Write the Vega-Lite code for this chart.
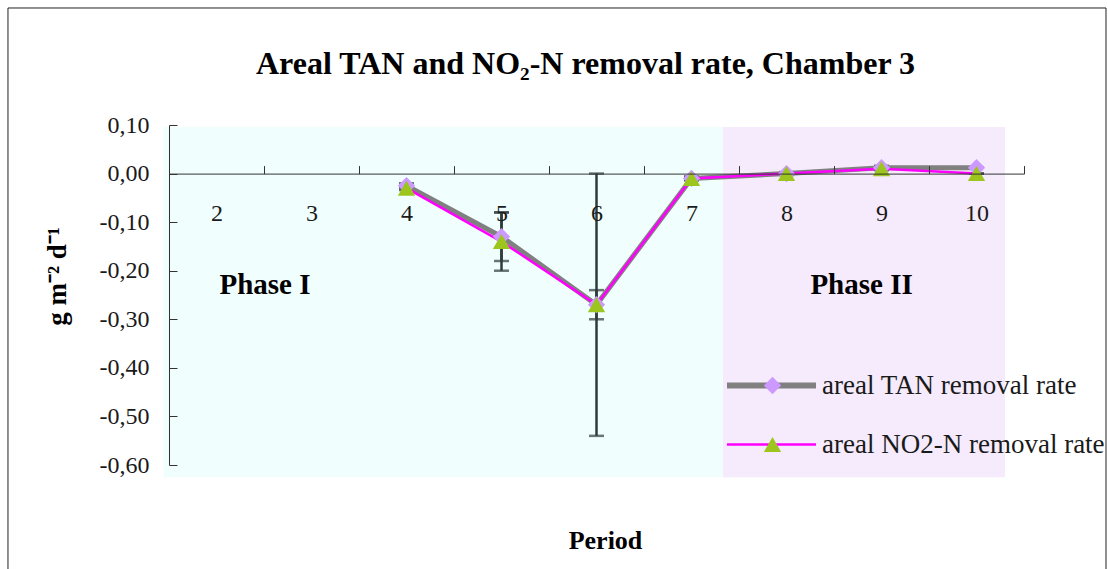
{
  "$schema": "https://vega.github.io/schema/vega-lite/v6.json",
  "width": 855,
  "height": 340,
  "autosize": {"type": "none"},
  "padding": {"left": 169, "top": 125, "right": 84, "bottom": 104},
  "background": "white",
  "title": {
    "text": "Areal TAN and NO₂-N removal rate, Chamber 3",
    "font": "Liberation Serif",
    "fontSize": 32,
    "fontWeight": "bold",
    "color": "#000000",
    "anchor": "middle",
    "dx": -11,
    "offset": -73.5
  },
  "datasets": {
    "rates": [
      {"period": 4, "series": "areal TAN removal rate", "value": -0.025, "lo": -0.03, "hi": -0.02},
      {"period": 5, "series": "areal TAN removal rate", "value": -0.13, "lo": -0.18, "hi": -0.08},
      {"period": 6, "series": "areal TAN removal rate", "value": -0.27, "lo": -0.54, "hi": 0.0},
      {"period": 7, "series": "areal TAN removal rate", "value": -0.01, "lo": -0.014, "hi": -0.006},
      {"period": 8, "series": "areal TAN removal rate", "value": 0.0, "lo": -0.003, "hi": 0.003},
      {"period": 9, "series": "areal TAN removal rate", "value": 0.012, "lo": 0.008, "hi": 0.016},
      {"period": 10, "series": "areal TAN removal rate", "value": 0.012, "lo": 0.012, "hi": 0.012},
      {"period": 4, "series": "areal NO2-N removal rate", "value": -0.03, "lo": -0.034, "hi": -0.026},
      {"period": 5, "series": "areal NO2-N removal rate", "value": -0.14, "lo": -0.2, "hi": -0.08},
      {"period": 6, "series": "areal NO2-N removal rate", "value": -0.27, "lo": -0.3, "hi": -0.24},
      {"period": 7, "series": "areal NO2-N removal rate", "value": -0.01, "lo": -0.013, "hi": -0.007},
      {"period": 8, "series": "areal NO2-N removal rate", "value": 0.0, "lo": 0.0, "hi": 0.0},
      {"period": 9, "series": "areal NO2-N removal rate", "value": 0.01, "lo": 0.007, "hi": 0.013},
      {"period": 10, "series": "areal NO2-N removal rate", "value": 0.0, "lo": 0.0, "hi": 0.0}
    ],
    "phases": [
      {"phase": "Phase I", "start": 1.44, "end": 7.33, "labelX": 2.51},
      {"phase": "Phase II", "start": 7.33, "end": 10.3, "labelX": 8.79}
    ]
  },
  "resolve": {"axis": {"x": "independent", "y": "independent"}},
  "layer": [
    {
      "data": {"name": "phases"},
      "transform": [{"filter": "datum.phase == 'Phase I'"}],
      "mark": {"type": "rect", "fill": "#F0FFFE"},
      "encoding": {
        "x": {"field": "start", "type": "quantitative", "scale": {"domain": [1.5, 10.5], "nice": false, "zero": false},
          "axis": {"orient": "bottom", "title": "Period", "labels": false, "ticks": false, "domain": false, "grid": false, "titleX": 436,
            "titleFont": "Liberation Serif", "titleFontSize": 26, "titleFontWeight": "bold", "titleColor": "#000000", "titlePadding": 62}},
        "x2": {"field": "end"},
        "y": {"datum": 0.096, "type": "quantitative", "axis": null},
        "y2": {"datum": -0.625}
      }
    },
    {
      "data": {"name": "phases"},
      "transform": [{"filter": "datum.phase == 'Phase II'"}],
      "mark": {"type": "rect", "fill": "#F5EBFC"},
      "encoding": {
        "x": {"field": "start", "type": "quantitative",
          "axis": {"orient": "bottom", "offset": -291.4, "values": [1.5, 2.5, 3.5, 4.5, 5.5, 6.5, 7.5, 8.5, 9.5, 10.5], "zindex": 1,
            "labels": false, "title": null, "grid": false, "tickSize": -8, "domainColor": "#333333", "tickColor": "#333333"}},
        "x2": {"field": "end"},
        "y": {"datum": 0.096, "type": "quantitative", "axis": null},
        "y2": {"datum": -0.625}
      }
    },
    {
      "data": {"values": [{}]},
      "mark": {"type": "rect", "filled": false, "stroke": "#222222", "strokeWidth": 1},
      "encoding": {
        "x": {"datum": -0.195, "type": "quantitative", "axis": null},
        "x2": {"datum": 11.363},
        "y": {"datum": 0.3409, "type": "quantitative", "axis": null},
        "y2": {"datum": -0.83}
      }
    },
    {
      "data": {"name": "phases"},
      "mark": {"type": "text", "font": "Liberation Serif", "fontSize": 29, "fontWeight": "bold", "color": "#000000"},
      "encoding": {
        "x": {"field": "labelX", "type": "quantitative", "axis": null},
        "y": {"datum": -0.23, "type": "quantitative", "axis": null},
        "text": {"field": "phase"}
      }
    },
    {
      "data": {"name": "rates"},
      "mark": {"type": "errorbar", "color": "#2F3B3B", "thickness": 2.5, "ticks": {"size": 15, "thickness": 2.5, "color": "#2F3B3B"}},
      "encoding": {
        "x": {"field": "period", "type": "quantitative", "axis": null},
        "y": {"field": "lo", "type": "quantitative", "axis": null},
        "y2": {"field": "hi"}
      }
    },
    {
      "data": {"name": "rates"},
      "mark": {"type": "line"},
      "encoding": {
        "x": {"field": "period", "type": "quantitative",
          "axis": {"orient": "bottom", "offset": -291.4, "values": [2, 3, 4, 5, 6, 7, 8, 9, 10], "ticks": false, "domain": false, "zindex": 1,
            "title": null, "grid": false, "labelFont": "Liberation Serif", "labelFontSize": 24, "labelColor": "#1a1a1a", "labelPadding": 28}},
        "y": {"field": "value", "type": "quantitative",
          "scale": {"domain": [-0.6, 0.1], "nice": false, "zero": false},
          "axis": {"orient": "left", "title": "g m⁻² d⁻¹", "values": [0.1, 0, -0.1, -0.2, -0.3, -0.4, -0.5, -0.6], "format": ".2f",
            "grid": false, "domainColor": "#333333", "tickColor": "#333333", "tickSize": -8, "zindex": 1,
            "labelFont": "Liberation Serif", "labelFontSize": 24, "labelColor": "#1a1a1a", "labelPadding": 28,
            "titleFont": "Liberation Serif", "titleFontSize": 27, "titleFontWeight": "bold", "titleColor": "#000000", "titlePadding": 28, "titleY": 151}},
        "color": {"field": "series", "type": "nominal", "sort": ["areal TAN removal rate", "areal NO2-N removal rate"],
          "scale": {"range": ["#808080", "#FF00FF"]},
          "legend": {"orient": "none", "legendX": 589, "legendY": 247, "title": null, "symbolType": "stroke", "symbolSize": 7921,
            "labelFont": "Liberation Serif", "labelFontSize": 27, "labelColor": "#1a1a1a", "labelOffset": 37, "labelLimit": 0, "rowPadding": 31, "padding": 0,
            "encode": {"symbols": {"update": {"strokeWidth": {"signal": "datum.value == 'areal TAN removal rate' ? 6 : 2.5"}}}}}},
        "strokeWidth": {"condition": {"test": "datum.series == 'areal TAN removal rate'", "value": 5}, "value": 2.5}
      }
    },
    {
      "data": {"name": "rates"},
      "mark": {"type": "point", "filled": true, "opacity": 1, "size": 300},
      "encoding": {
        "x": {"field": "period", "type": "quantitative", "axis": null},
        "y": {"field": "value", "type": "quantitative", "axis": null},
        "fill": {"field": "series", "type": "nominal",
          "scale": {"domain": ["areal TAN removal rate", "areal NO2-N removal rate"], "range": ["#CC99FF", "#9CC61E"]},
          "legend": {"orient": "none", "legendX": 590, "legendY": 247, "title": null, "labelExpr": "' '", "labelLimit": 0,
            "labelFont": "Liberation Serif", "labelFontSize": 27, "rowPadding": 31, "padding": 0, "symbolSize": 300, "symbolOpacity": 1}},
        "shape": {"field": "series", "type": "nominal",
          "scale": {"domain": ["areal TAN removal rate", "areal NO2-N removal rate"], "range": ["diamond", "triangle-up"]},
          "legend": {"orient": "none", "legendX": 590, "legendY": 247, "title": null, "labelExpr": "' '", "labelLimit": 0,
            "labelFont": "Liberation Serif", "labelFontSize": 27, "rowPadding": 31, "padding": 0, "symbolSize": 300, "symbolOpacity": 1}}
      }
    }
  ],
  "config": {
    "view": {"stroke": null},
    "locale": {"number": {"decimal": ",", "thousands": ".", "grouping": [3], "currency": ["", " €"], "minus": "-"}}
  }
}
